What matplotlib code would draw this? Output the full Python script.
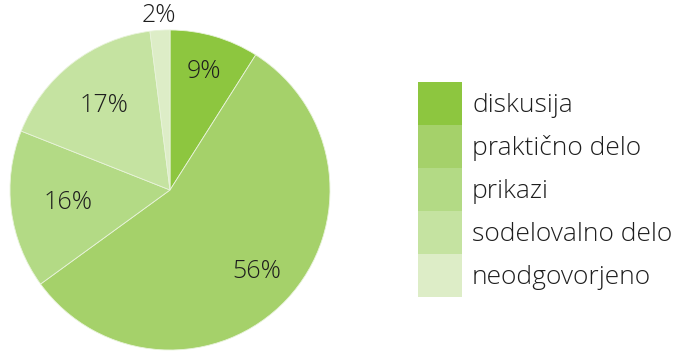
import numpy as np
import matplotlib
matplotlib.use("Agg")
import matplotlib.pyplot as plt
from matplotlib.patches import Patch

plt.rcParams['font.family'] = ['Open Sans', 'DejaVu Sans']
plt.rcParams['font.weight'] = 'light'

labels = ['diskusija', 'praktično delo', 'prikazi', 'sodelovalno delo', 'neodgovorjeno']
values = [9, 56, 16, 17, 2]
colors = ['#8DC63F', '#A5D16A', '#B3DA85', '#C5E3A1', '#DDEDC7']
label_dist = [0.77, 0.74, 0.64, 0.67, 1.09]

W, H = 674, 352
fig = plt.figure(figsize=(W / 100, H / 100), dpi=100, facecolor='w')

# pie: centre (170,190) px, radius 160 px
cx, cy, r = 170, 190, 160
ax = fig.add_axes([(cx - r) / W, (H - cy - r) / H, 2 * r / W, 2 * r / H])
wedges, _ = ax.pie(values, colors=colors, startangle=90, counterclock=False,
                   wedgeprops=dict(edgecolor='#e8f3da', linewidth=0.6))
ax.set_xlim(-1, 1)
ax.set_ylim(-1, 1)
ax.set_aspect('equal')
ax.axis('off')

for w, v, d in zip(wedges, values, label_dist):
    ang = np.deg2rad((w.theta1 + w.theta2) / 2)
    ax.text(d * np.cos(ang), d * np.sin(ang), f'{v}%', ha='center', va='center',
            fontsize=18, color='#1e1e1e')

handles = [Patch(facecolor=c, edgecolor='none') for c in colors]
leg = fig.legend(handles, labels, loc='upper left',
                 bbox_to_anchor=(418 / W, 1 - 82 / H), frameon=False,
                 fontsize=19, labelspacing=0, handlelength=1.67, handleheight=2.13,
                 handletextpad=0.38, borderpad=0, borderaxespad=0)
for t in leg.get_texts():
    t.set_color('#1e1e1e')

fig.savefig('out.png', dpi=100, facecolor='w')
